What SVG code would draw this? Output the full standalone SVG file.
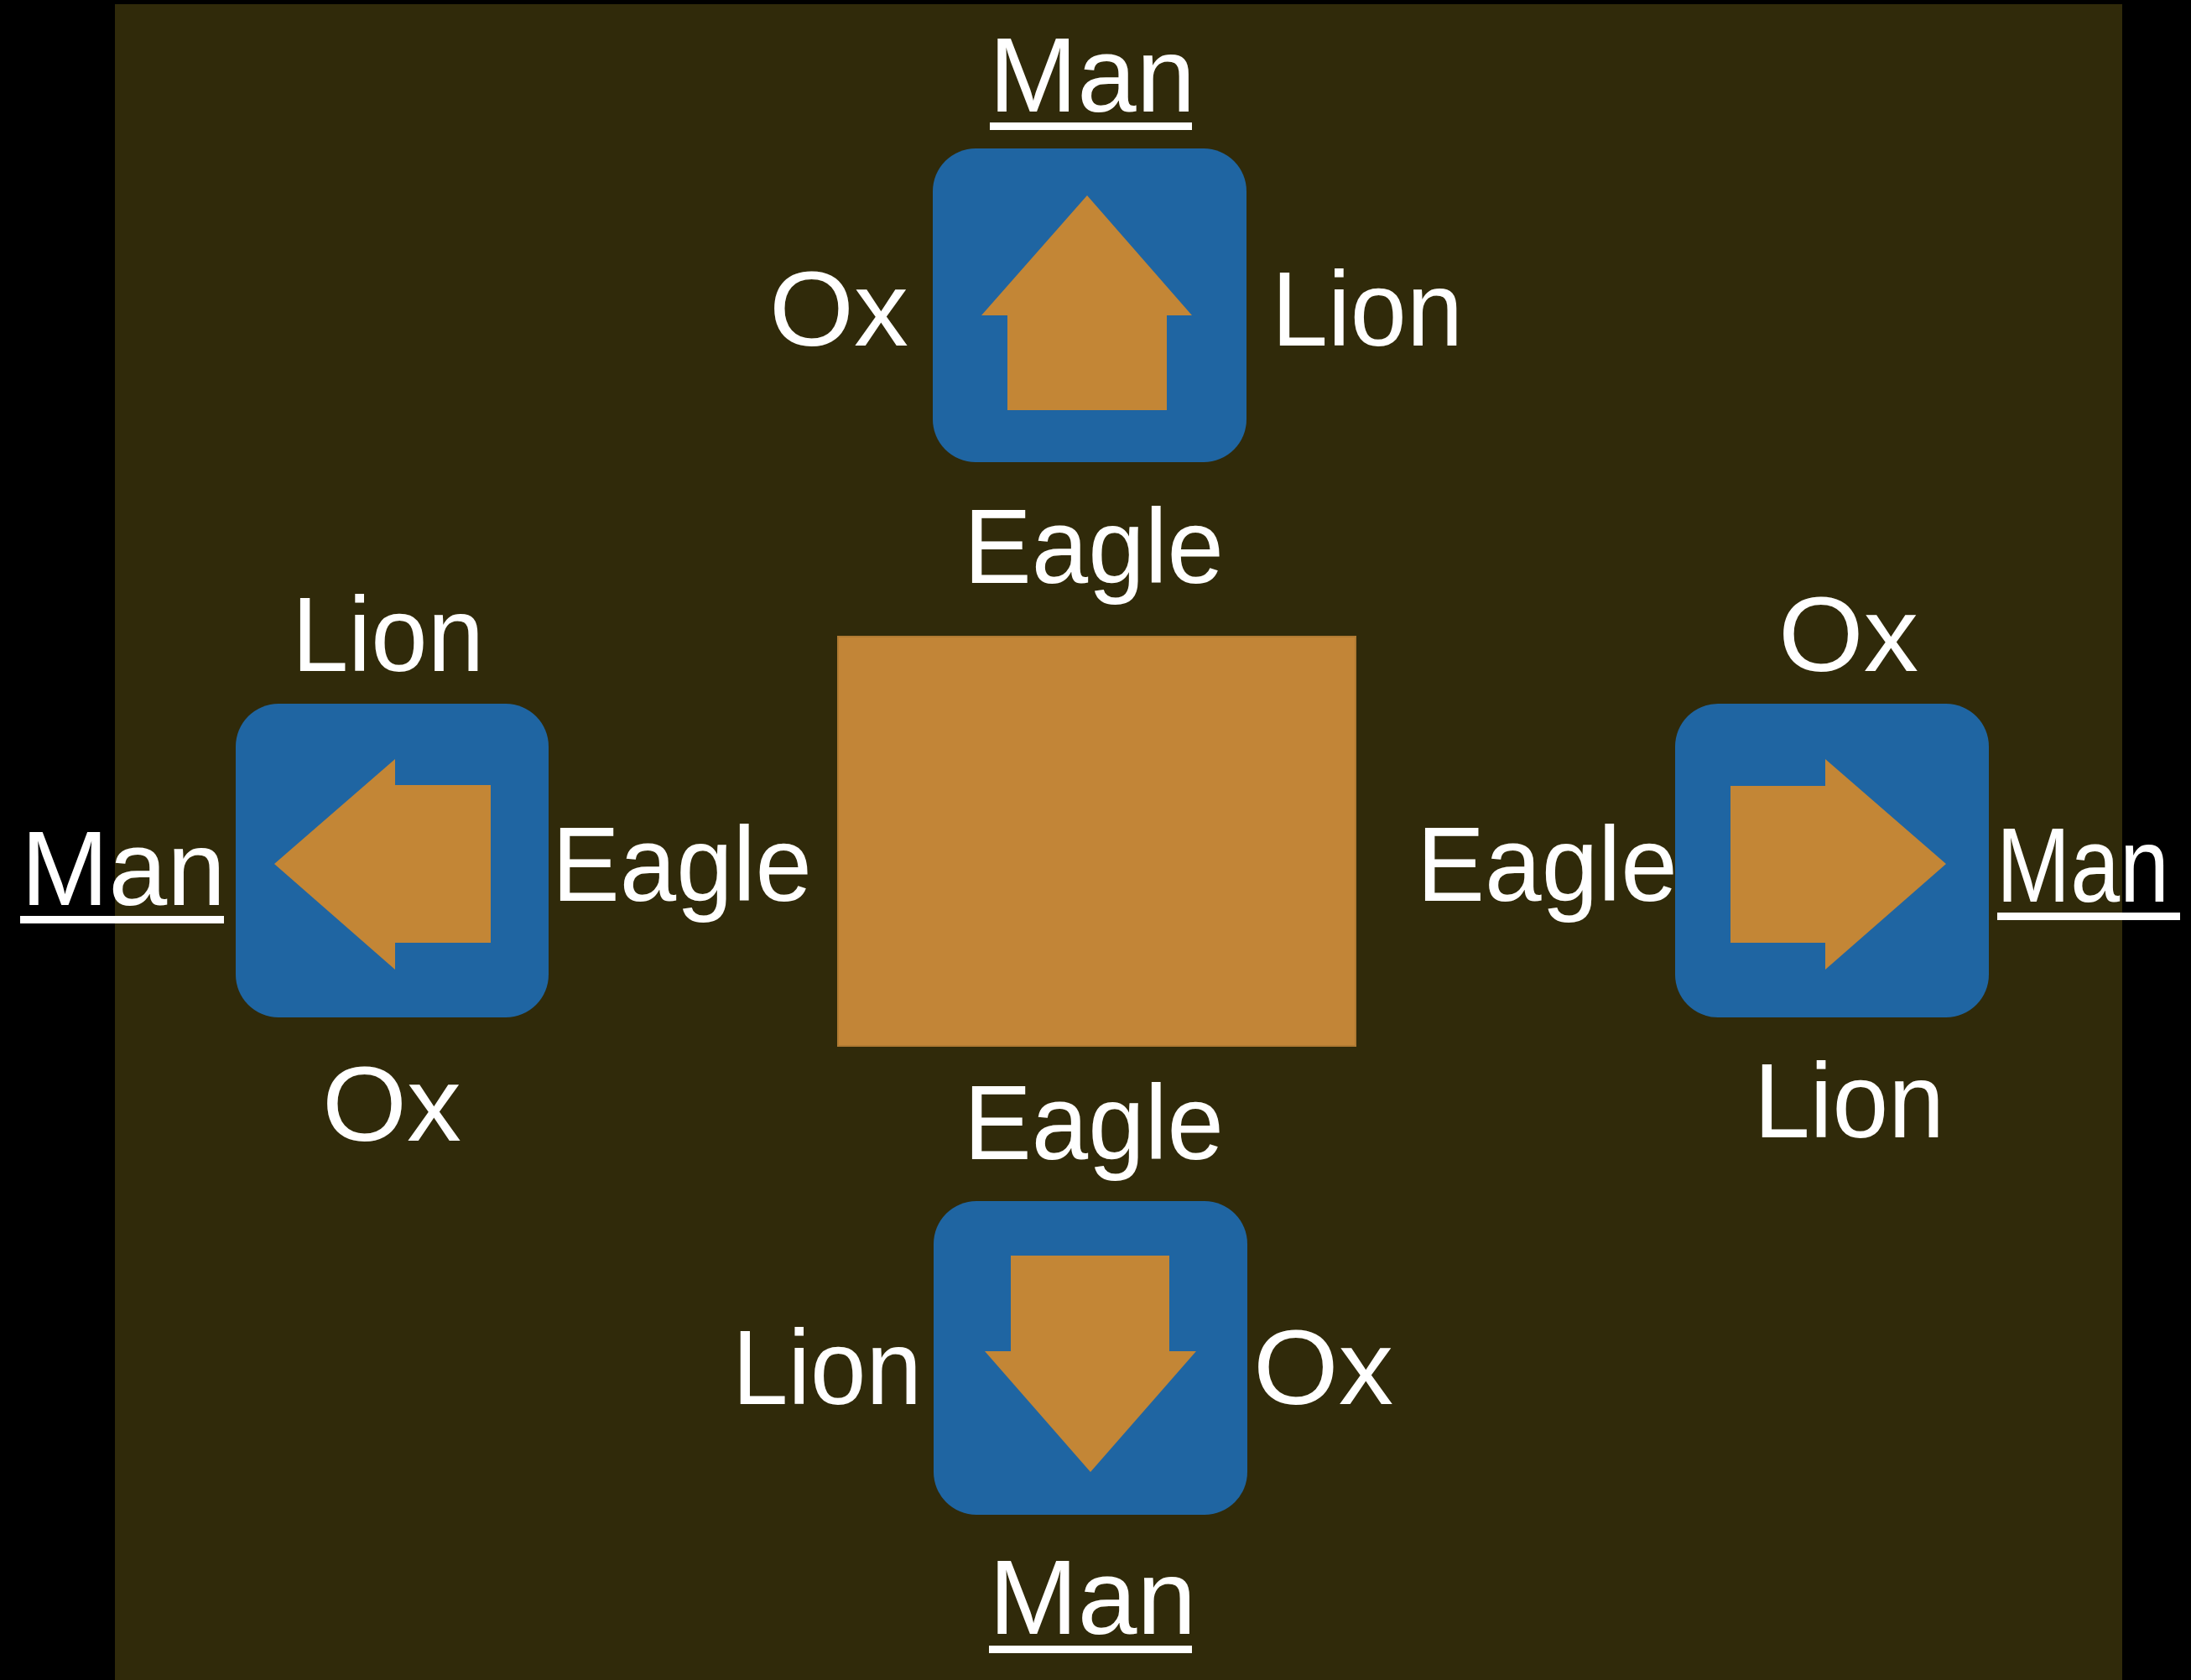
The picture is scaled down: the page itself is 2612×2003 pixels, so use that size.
<svg xmlns="http://www.w3.org/2000/svg" width="2612" height="2003" viewBox="0 0 2612 2003">
<style>
.t{font-family:"Liberation Sans",Arial,sans-serif;font-size:127px;fill:#ffffff}
.box{fill:#1f65a2}
.arr{fill:#c38636}
.ul{fill:#ffffff}
</style>
<rect x="0" y="0" width="2612" height="2003" fill="#000000"/>
<rect x="137" y="5" width="2393" height="1998" fill="#302a0a"/>
<g id="center">
<rect x="999" y="759" width="617" height="488" fill="#c28537" stroke="#b07a32" stroke-width="2"/>
</g>
<g id="connectors"></g>
<g id="top">
<rect class="box" x="1112" y="177" width="374" height="374" rx="51"/>
<polygon class="arr" points="1296,233 1421,376 1391,376 1391,489 1201,489 1201,376 1170,376"/>
<text class="t" x="1179" y="133" textLength="246" lengthAdjust="spacingAndGlyphs">Man</text>
<rect class="ul" x="1180" y="146" width="241" height="9"/>
<text class="t" x="917" y="412" textLength="166" lengthAdjust="spacingAndGlyphs">Ox</text>
<text class="t" x="1516" y="412" textLength="228" lengthAdjust="spacingAndGlyphs">Lion</text>
<text class="t" x="1149" y="695" textLength="310" lengthAdjust="spacingAndGlyphs">Eagle</text>
</g>
<g id="left">
<rect class="box" x="281" y="839" width="373" height="374" rx="51"/>
<polygon class="arr" points="327,1030 471,905 471,936 585,936 585,1124 471,1124 471,1156"/>
<text class="t" x="348" y="800" textLength="229" lengthAdjust="spacingAndGlyphs">Lion</text>
<text class="t" x="25" y="1079" textLength="244" lengthAdjust="spacingAndGlyphs">Man</text>
<rect class="ul" x="24" y="1092" width="243" height="9"/>
<text class="t" x="658" y="1074" textLength="310" lengthAdjust="spacingAndGlyphs">Eagle</text>
<text class="t" x="384" y="1360" textLength="166" lengthAdjust="spacingAndGlyphs">Ox</text>
</g>
<g id="right">
<rect class="box" x="1997" y="839" width="374" height="374" rx="51"/>
<polygon class="arr" points="2320,1030 2176,1156 2176,1124 2063,1124 2063,937 2176,937 2176,905"/>
<text class="t" x="2120" y="800" textLength="167" lengthAdjust="spacingAndGlyphs">Ox</text>
<text class="t" x="1689" y="1074" textLength="311" lengthAdjust="spacingAndGlyphs">Eagle</text>
<text class="t" x="2380" y="1075" textLength="206" lengthAdjust="spacingAndGlyphs">Man</text>
<rect class="ul" x="2381" y="1088" width="218" height="9"/>
<text class="t" x="2091" y="1356" textLength="227" lengthAdjust="spacingAndGlyphs">Lion</text>
</g>
<g id="bottom">
<rect class="box" x="1113" y="1432" width="374" height="374" rx="51"/>
<polygon class="arr" points="1300,1755 1174,1611 1205,1611 1205,1497 1394,1497 1394,1611 1426,1611"/>
<text class="t" x="1149" y="1382" textLength="310" lengthAdjust="spacingAndGlyphs">Eagle</text>
<text class="t" x="873" y="1674" textLength="226" lengthAdjust="spacingAndGlyphs">Lion</text>
<text class="t" x="1494" y="1674" textLength="167" lengthAdjust="spacingAndGlyphs">Ox</text>
<text class="t" x="1179" y="1948" textLength="247" lengthAdjust="spacingAndGlyphs">Man</text>
<rect class="ul" x="1179" y="1962" width="242" height="9"/>
</g>
</svg>
